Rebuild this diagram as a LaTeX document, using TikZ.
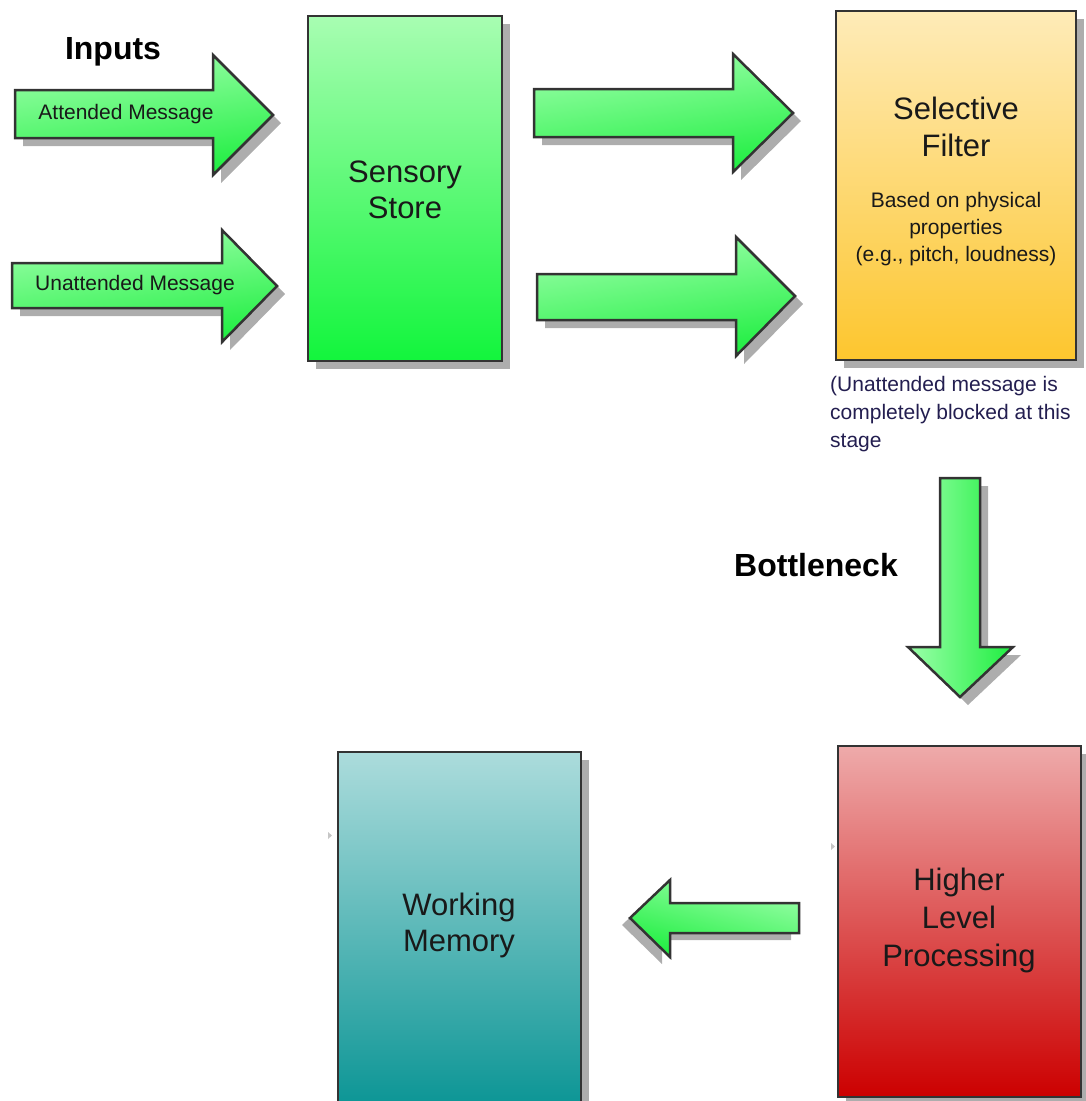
\documentclass[tikz,border=0pt]{standalone}
\usepackage{fontspec}
\setmainfont{Liberation Sans}
\usetikzlibrary{shadows}

% palette
\definecolor{boxline}{HTML}{333333}
\definecolor{shadowgray}{HTML}{ADADAD}
\definecolor{ssTop}{HTML}{A8FDB2}
\definecolor{ssBot}{HTML}{12F53C}
\definecolor{sfTop}{HTML}{FEEBB8}
\definecolor{sfBot}{HTML}{FDC62E}
\definecolor{hlTop}{HTML}{EEAAAA}
\definecolor{hlBot}{HTML}{CC0000}
\definecolor{wmTop}{HTML}{ACDCDC}
\definecolor{wmBot}{HTML}{009090}
\definecolor{arLight}{HTML}{9CFFAA}
\definecolor{arDark}{HTML}{1EEE40}
\definecolor{notecol}{RGB}{35,30,80}

% block arrow: shadow offset, shading options, outline path
\newcommand\blockarrow[3]{%
  \fill[shadowgray, shift={#1}] #3;
  \path[arrowline, #2] #3;
}

\begin{document}
\begin{tikzpicture}[x=1pt, y=-1pt,
  box/.style={rectangle, draw=boxline, line width=2.5pt, inner sep=0pt,
    drop shadow={shadow xshift=8pt, shadow yshift=-8pt, fill=shadowgray, opacity=1}},
  arrowline/.style={draw=boxline, line width=2.5pt, line join=miter},
  bigtxt/.style={font=\fontsize{31}{37}\selectfont, text=black!90, align=center, inner sep=0pt},
  smalltxt/.style={font=\fontsize{21}{27}\selectfont, text=black!90, align=center, inner sep=0pt},
  headtxt/.style={font=\bfseries\fontsize{32}{38}\selectfont, inner sep=0pt},
  marker/.style={fill=gray!45}
]
\useasboundingbox (0,0) rectangle (1086,1101);
\clip (0,0) rectangle (1086,1101);

% boxes
\node[box, top color=ssTop, bottom color=ssBot,
      minimum width=194pt, minimum height=345pt] (sensory) at (405,188.5) {};
\node[box, top color=sfTop, bottom color=sfBot,
      minimum width=240pt, minimum height=349pt] (filter) at (956,185.5) {};
\node[box, top color=hlTop, bottom color=hlBot,
      minimum width=243pt, minimum height=351pt] (higher) at (959.5,921.5) {};
\node[box, top color=wmTop, bottom color=wmBot,
      minimum width=243pt, minimum height=380pt] (working) at (459.5,942) {};

% box texts
\node[bigtxt] (sensorytxt) at (405,190) {Sensory\\[-1pt]Store};
\node[bigtxt] (filtertxt) at (956,126.5) {Selective\\[0pt]Filter};
\node[smalltxt] (filterdesc) at (956,229) {Based on physical\\properties\\(e.g., pitch, loudness)};
\node[bigtxt] (highertxt) at (959,920) {Higher\\[1pt]Level\\[1pt]Processing};
\node[bigtxt] (workingtxt) at (459,925) {Working\\[-1pt]Memory};

% headings and note
\node[headtxt] (inputs) at (113,52) {Inputs};
\node[headtxt] (bottleneck) at (816,565) {Bottleneck};
\node[font=\fontsize{21}{28}\selectfont, text=notecol, align=left, anchor=north west,
      inner sep=0pt] (note) at (830,376)
  {(Unattended message is\\completely blocked at this\\stage};

% input arrows
\blockarrow{(8,8)}{top color=arLight, bottom color=arDark, shading angle=8}
  {(15,90) -- (213,90) -- (213,55) -- (273,115) -- (213,175) -- (213,138) -- (15,138) -- cycle}
\blockarrow{(8,8)}{top color=arLight, bottom color=arDark, shading angle=8}
  {(12,263) -- (222,263) -- (222,230) -- (277,286) -- (222,342) -- (222,308) -- (12,308) -- cycle}
\node[smalltxt] (attended) at (126,114) {Attended Message};
\node[smalltxt] (unattended) at (135,285) {Unattended Message};

% sensory store to filter
\blockarrow{(8,8)}{top color=arLight, bottom color=arDark, shading angle=8}
  {(534,89) -- (733,89) -- (733,54) -- (793,113) -- (733,172) -- (733,137) -- (534,137) -- cycle}
\blockarrow{(8,8)}{top color=arLight, bottom color=arDark, shading angle=8}
  {(537,274) -- (736,274) -- (736,237) -- (795,296) -- (736,356) -- (736,320) -- (537,320) -- cycle}

% bottleneck
\blockarrow{(8,8)}{left color=arLight, right color=arDark}
  {(940,478) -- (980,478) -- (980,647) -- (1013,647) -- (960,697) -- (908,647) -- (940,647) -- cycle}

% higher level processing to working memory
\blockarrow{(-8,7)}{top color=arLight, bottom color=arDark, shading angle=-15}
  {(799,903) -- (670,903) -- (670,880) -- (630,918) -- (670,957) -- (670,933) -- (799,933) -- cycle}

% small markers beside the lower boxes
\fill[marker] (328,832) -- (332,835.5) -- (328,839) -- cycle;
\fill[marker] (831,843) -- (835,846.5) -- (831,850) -- cycle;
\end{tikzpicture}
\end{document}
